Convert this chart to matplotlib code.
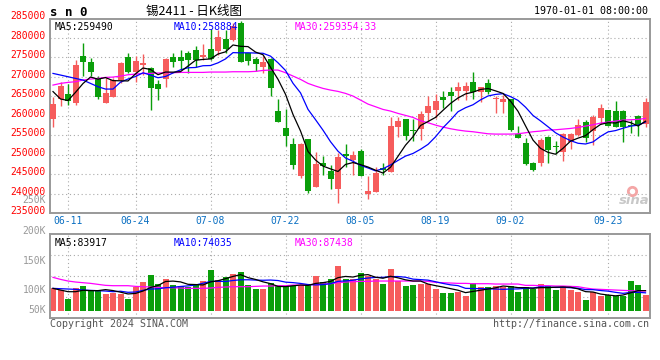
import numpy as np
import pandas as pd
import matplotlib
matplotlib.use('Agg')
import matplotlib.pyplot as plt
import matplotlib.transforms as mtrans

# daily K-line, 2024-06-06 .. 2024-09-30 (80 trading days)
opens = [259200, 264200, 265600, 263300, 275300, 273900, 269800, 263300, 264900, 269200,
         275000, 271200, 272900, 272200, 268100, 269300, 275000, 275000, 276100, 276800,
         275100, 277100, 276600, 279700, 279400, 283700, 276200, 274500, 272600, 274500,
         261300, 256800, 252700, 244500, 254000, 241800, 247800, 245800, 241300, 250200,
         248600, 251000, 240000, 240400, 246700, 245600, 257200, 259100, 256400, 256500,
         260600, 261500, 264900, 266200, 266400, 266300, 268700, 266200, 268500, 264200,
         263600, 264300, 255200, 253000, 247800, 248000, 254500, 252100, 250600, 253300,
         255000, 258400, 256200, 259500, 261500, 261200, 261300, 257600, 259900, 257900]
highs = [264700, 268700, 268100, 274300, 278700, 274700, 270200, 269800, 269600, 273900,
         276200, 275300, 275900, 272600, 269200, 274700, 276200, 276800, 276600, 277900,
         278300, 282200, 282000, 282100, 283700, 284200, 276200, 275000, 275300, 274900,
         264200, 261700, 254400, 252900, 254000, 250700, 249800, 247300, 250500, 252700,
         251000, 251400, 244500, 246900, 247800, 259700, 259700, 259200, 259200, 261300,
         265000, 265600, 266400, 267400, 268700, 268600, 271300, 267400, 269400, 265100,
         265300, 264300, 257400, 254400, 248200, 254400, 254700, 253600, 255500, 255700,
         259200, 258900, 260200, 262900, 261600, 263800, 261500, 258900, 260300, 264600]
lows = [257200, 262500, 262700, 262700, 270200, 270200, 264300, 263300, 264700, 268300,
        270900, 268700, 270400, 261500, 264000, 267400, 272600, 271900, 271000, 272600,
        274300, 274300, 275600, 276000, 279200, 273800, 273000, 271500, 270900, 265000,
        258500, 252200, 246300, 244100, 240300, 241800, 244800, 241100, 237700, 246900,
        244800, 244500, 238700, 240400, 244700, 245600, 254600, 253800, 253600, 253900,
        258700, 259300, 262100, 261300, 264000, 264000, 264300, 263600, 265600, 260800,
        260800, 256100, 254400, 247400, 245900, 247200, 247800, 250300, 248500, 251600,
        254800, 253300, 252500, 257800, 257500, 257000, 253200, 255500, 254900, 257200]
closes = [263000, 267600, 263900, 273000, 273800, 271300, 264900, 265900, 269100, 273600,
          271100, 274000, 273400, 267200, 266900, 274500, 273900, 274000, 274400, 274300,
          275600, 274500, 280300, 277200, 283100, 273900, 274100, 273300, 273800, 267000,
          258500, 254900, 247400, 252700, 240700, 247600, 247100, 243800, 249400, 249700,
          250000, 244500, 240700, 245300, 246100, 257400, 258600, 254900, 256200, 260400,
          262500, 263900, 264000, 265000, 267400, 267700, 266200, 267400, 266200, 264400,
          264400, 256300, 254400, 247600, 246100, 253800, 251200, 252000, 255200, 255300,
          257600, 254400, 259700, 261900, 257500, 257200, 257200, 257400, 257600, 263600]

# moving averages: first points (before enough history)
ma5_head = [266200, 264300, 263900, 266000]
ma10_head = [270850, 270430, 270000, 269570, 269150, 268290, 267440, 266840, 266840]
ma30 = [267860, 268290, 268550, 268720, 269150, 269400, 269570, 269830, 269910, 270170,
        270510, 270680, 270850, 270850, 270940, 271030, 271030, 271110, 271110, 271110,
        271110, 271200, 271200, 271200, 271280, 271280, 271280, 271370, 271620, 271710,
        271710, 271030, 270170, 269320, 268290, 267610, 267010, 266580, 266240, 265730,
        265040, 264020, 262990, 262310, 261620, 261200, 260600, 260090, 259570, 258720,
        258210, 257610, 257090, 256670, 256330, 256070, 255900, 255640, 255380, 255300,
        255300, 255300, 255380, 255640, 255900, 256070, 256330, 256410, 256580, 256750,
        257010, 257350, 257690, 258120, 258380, 258630, 258890, 258980, 259060, 259320]

# volume, thousand lots
vol_k = [98.6, 91.2, 51.5, 100.1, 108.9, 91.2, 91.2, 73.6, 79.5, 73.6,
         51.5, 103.0, 126.6, 157.5, 117.7, 139.8, 111.9, 108.9, 104.5, 111.9,
         131.0, 179.5, 135.4, 148.6, 161.9, 170.7, 113.3, 95.7, 95.7, 122.2,
         108.9, 108.9, 113.3, 113.3, 113.3, 153.1, 126.6, 139.8, 197.2, 139.8,
         139.8, 166.3, 153.1, 139.8, 117.7, 184.0, 131.0, 108.9, 113.3, 117.7,
         117.7, 95.7, 78.0, 78.0, 82.4, 64.8, 122.2, 104.5, 104.5, 108.9,
         104.5, 108.9, 82.4, 104.5, 95.7, 117.7, 108.9, 91.2, 108.9, 91.2,
         82.4, 47.1, 82.4, 64.8, 69.2, 64.8, 64.8, 131.0, 113.3, 69.2]
vma5_head = [98.6, 91.2, 83.9, 83.9]
vma10_head = [98.6, 97.1, 95.7, 94.2, 91.2, 89.8, 88.3, 86.8, 83.9]
vma30 = [147.2, 138.3, 131.0, 126.6, 123.6, 120.7, 116.3, 111.9, 110.4, 110.4,
         110.4, 107.4, 106.0, 104.5, 103.0, 101.5, 101.5, 100.1, 98.6, 98.6,
         98.6, 100.1, 103.0, 104.5, 106.0, 106.0, 106.0, 107.4, 108.9, 108.9,
         110.4, 110.4, 113.3, 113.3, 114.8, 116.3, 117.7, 119.2, 123.6, 126.6,
         128.0, 129.5, 129.5, 131.0, 131.0, 131.0, 131.0, 131.0, 131.0, 131.0,
         129.5, 125.1, 123.6, 122.2, 120.7, 120.7, 119.2, 119.2, 119.2, 117.7,
         117.7, 117.7, 117.7, 111.9, 111.9, 110.4, 110.4, 108.9, 108.9, 107.4,
         106.0, 100.1, 95.7, 94.2, 92.7, 91.2, 89.8, 88.3, 86.8, 86.8]

tick_pos = [2, 11, 21, 31, 41, 51, 61, 74]
tick_lab = ['06-11', '06-24', '07-08', '07-22', '08-05', '08-19', '09-02', '09-23']

RED = '#f65c5c'
GREEN = '#0a9e0a'
GRID = '#aaaaaa'
MONO = 'DejaVu Sans Mono'
W, H = 660, 360

o = np.array(opens); h = np.array(highs); l = np.array(lows); c = np.array(closes)
x = np.arange(len(c))
cols = np.where(c >= o, RED, GREEN)

ma5 = pd.Series(c).rolling(5).mean().to_numpy()
ma5[:4] = ma5_head
ma10 = pd.Series(c).rolling(10).mean().to_numpy()
ma10[:9] = ma10_head
v = np.array(vol_k)
vma5 = pd.Series(v).rolling(5).mean().to_numpy()
vma5[:4] = vma5_head
vma10 = pd.Series(v).rolling(10).mean().to_numpy()
vma10[:9] = vma10_head

fig = plt.figure(figsize=(6.6, 3.6), dpi=100)
ax = fig.add_axes([50/W, 1-213.3/H, 599.5/W, 194/H])
axv = fig.add_axes([50/W, 1-317.7/H, 599.5/W, 83.4/H])

for a in (ax, axv):
    a.set_xlim(-0.4, 79.53)
    a.set_xticks([]); a.set_yticks([])
    for s in a.spines.values():
        s.set_color('#999999'); s.set_linewidth(1.4)
    for t in tick_pos:
        a.axvline(t, color=GRID, lw=0.8, ls=(0, (1, 2.5)), zorder=0)

# price panel
ax.set_ylim(235000, 284720)
for g in range(240000, 285000, 5000):
    ax.axhline(g, color=GRID, lw=0.8, ls=(0, (1, 2.5)), zorder=0)
ax.vlines(x, l, h, colors=cols, lw=1, zorder=2)
ax.bar(x, np.maximum(np.abs(c - o), 250), bottom=np.minimum(o, c), width=0.8,
       color=cols, lw=0, zorder=3)
ax.plot(x, ma30, color='#ff00ff', lw=0.9, zorder=4)
ax.plot(x, ma10, color='#0000ff', lw=0.9, zorder=4)
ax.plot(x, ma5, color='black', lw=0.9, zorder=4)

ylab_tr = mtrans.offset_copy(ax.get_yaxis_transform(), fig=fig, y=2, units='dots')
for g in range(235000, 290000, 5000):
    ax.text(-0.0067, g, str(g), transform=ylab_tr, ha='right', va='center',
            color='red', fontsize=7, family=MONO, clip_on=False)
xtr = ax.get_xaxis_transform()
for t, s in zip(tick_pos, tick_lab):
    ax.text(t, -0.04, s, transform=xtr, ha='center', va='center', color='#0a6fc2',
            fontsize=7, family=MONO, clip_on=False)

ax.text(5/599.5, 0.985, 'MA5:259490', transform=ax.transAxes, ha='left', va='top',
        color='black', fontsize=7, family=MONO)
ax.text(124/599.5, 0.985, 'MA10:258884', transform=ax.transAxes, ha='left', va='top',
        color='#0000ff', fontsize=7, family=MONO)
ax.text(245/599.5, 0.985, 'MA30:259354.33', transform=ax.transAxes, ha='left', va='top',
        color='#ff00ff', fontsize=7, family=MONO)

# sina watermark
ax.plot(0.971, 0.115, marker='o', ms=6, mfc='none', mec='#f4a6a6', mew=2,
        transform=ax.transAxes, zorder=1)
ax.text(0.975, 0.066, 'sina', transform=ax.transAxes, ha='center', va='center',
        color='#c8c8c8', fontsize=9.5, style='italic', weight='bold', zorder=1)

# volume panel
axv.set_ylim(-30.9, 337.3)
y0, y1 = axv.get_ylim()
for f in (0.25, 0.5, 0.75):
    axv.axhline(y0 + (y1 - y0) * f, color=GRID, lw=0.8, ls=(0, (1, 2.5)), zorder=0)
axv.bar(x, v, width=0.8, color=cols, lw=0, zorder=2)
axv.plot(x, vma30, color='#ff00ff', lw=0.9, zorder=3)
axv.plot(x, vma10, color='#0000ff', lw=0.9, zorder=3)
axv.plot(x, vma5, color='black', lw=0.9, zorder=3)
for s, f in zip(['200K', '150K', '100K', '50K'], [1.04, 0.684, 0.329, 0.092]):
    axv.text(-0.0067, f, s, transform=axv.transAxes, ha='right', va='center',
             color='#999999', fontsize=7, family=MONO, clip_on=False)
axv.text(5/599.5, 0.96, 'MA5:83917', transform=axv.transAxes, ha='left', va='top',
         color='black', fontsize=7, family=MONO)
axv.text(124/599.5, 0.96, 'MA10:74035', transform=axv.transAxes, ha='left', va='top',
         color='#0000ff', fontsize=7, family=MONO)
axv.text(245/599.5, 0.96, 'MA30:87438', transform=axv.transAxes, ha='left', va='top',
         color='#ff00ff', fontsize=7, family=MONO)

# header / footer
fig.text(50/W, 1-12/H, 's n 0', ha='left', va='center', fontsize=9, weight='bold',
         family=MONO)
fig.text(194/W, 1-11.5/H, '锡2411 - 日K线图', ha='center', va='center', fontsize=9,
         family=['Noto Sans CJK SC', 'DejaVu Sans'])
fig.text(648/W, 1-11.5/H, '1970-01-01 08:00:00', ha='right', va='center', fontsize=7.2,
         family=MONO)
fig.text(46/W, 1-200/H, '250K', ha='right', va='center', color='#999999', fontsize=7,
         family=MONO)
fig.text(50/W, 1-324/H, 'Copyright 2024 SINA.COM', ha='left', va='center',
         color='#555555', fontsize=7.2, family=MONO)
fig.text(649/W, 1-324/H, 'http://finance.sina.com.cn', ha='right', va='center',
         color='#555555', fontsize=7.2, family=MONO)

fig.savefig('out.png', dpi=100)
